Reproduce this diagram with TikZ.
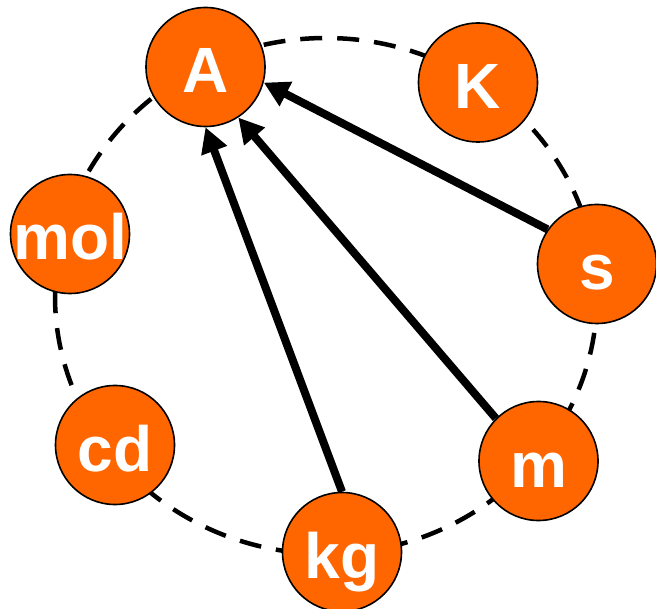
\documentclass[tikz,border=0pt]{standalone}
\usepackage{fontspec}
\setmainfont{Liberation Sans}
\usetikzlibrary{arrows.meta}
\definecolor{unitorange}{HTML}{FF6600}
\begin{document}
\begin{tikzpicture}[x=1pt,y=-1pt,
  unit/.style={circle, fill=unitorange, draw=black, line width=1.6pt,
    minimum size=119pt, inner sep=0pt, text=white,
    font=\fontsize{64}{64}\selectfont\bfseries, text height=52pt, text depth=0pt},
  ring/.style={line width=4.5pt, dash pattern=on 22pt off 15pt},
  deriv/.style={line width=8pt, -{Triangle[length=25pt,width=26pt]}}]
\useasboundingbox (0,0) rectangle (656,609);
\coordinate (ringc) at (326,296);
\draw[ring] (ringc) ellipse [x radius=271, y radius=258];
\node[unit] (A)   at (205.5,67)  {\makebox[0pt]{A}};
\node[unit] (K)   at (478,82.5)  {\makebox[0pt]{K}};
\node[unit] (s)   at (597,264)   {\makebox[0pt]{s}};
\node[unit] (m)   at (538.5,461) {\makebox[0pt]{m}};
\node[unit] (kg)  at (342,552)   {\makebox[0pt]{kg}};
\node[unit] (cd)  at (115,445)   {\makebox[0pt]{cd}};
\node[unit] (mol) at (70,234)    {\makebox[0pt]{mol}};
\draw[deriv] (s.145) -- (A.-15);
\draw[deriv] (m.135) -- (A.-57);
\draw[deriv] (kg.90) -- (A.-90);
\end{tikzpicture}
\end{document}
